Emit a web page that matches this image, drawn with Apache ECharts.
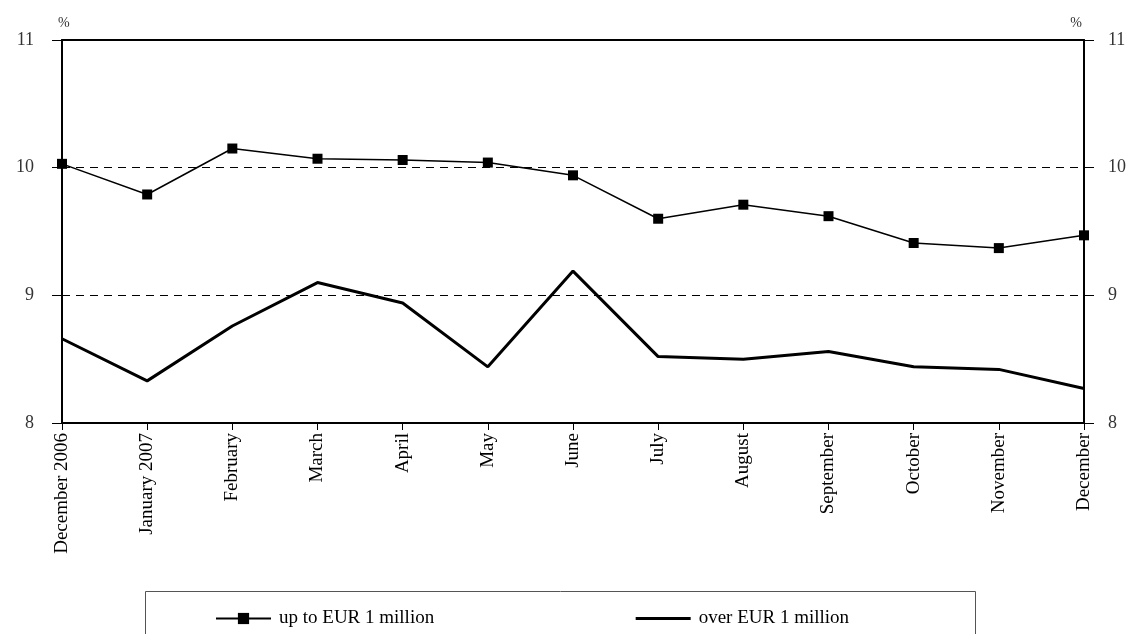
<!DOCTYPE html>
<html>
<head>
<meta charset="utf-8">
<script src="https://cdn.jsdelivr.net/npm/echarts@6/dist/echarts.min.js"></script>
<style>
html,body{margin:0;padding:0;background:#fff;}
#chart{width:1134px;height:634px;}
</style>
</head>
<body>
<div id="chart"></div>
<script>
const categories = ['December 2006','January 2007','February','March','April','May','June','July','August','September','October','November','December'];
const upTo1m = [10.03, 9.79, 10.15, 10.07, 10.06, 10.04, 9.94, 9.60, 9.71, 9.62, 9.41, 9.37, 9.47];
const over1m = [8.66, 8.33, 8.76, 9.10, 8.94, 8.44, 9.19, 8.52, 8.50, 8.56, 8.44, 8.42, 8.27];
const seriesNames = ['up to EUR 1 million', 'over EUR 1 million'];
const yMin = 8, yMax = 11, yInterval = 1;

const font = '"Liberation Serif", "DejaVu Serif", serif';
const chart = echarts.init(document.getElementById('chart'));
const yAxisCommon = {
  type: 'value', min: yMin, max: yMax, interval: yInterval,
  axisLine: {show: true, lineStyle: {color: '#000', width: 2}},
  axisTick: {show: true, length: 10, lineStyle: {color: '#000', width: 1}},
  axisLabel: {color: '#333', fontFamily: font, fontSize: 18, margin: 26},
  name: '%',
  nameGap: 10,
  nameTextStyle: {color: '#333', fontFamily: font, fontSize: 14}
};
chart.setOption({
  animation: false,
  backgroundColor: '#fff',
  grid: {left: 62, right: 50, top: 40, bottom: 211, containLabel: false},
  legend: {
    left: 210, top: 604,
    itemWidth: 55, itemHeight: 14, itemGap: 200,
    textStyle: {color: '#000', fontFamily: font, fontSize: 19, padding: [0,0,0,3]},
    data: [
      {name: seriesNames[0]},
      {name: seriesNames[1], itemStyle: {opacity: 0}, lineStyle: {width: 3, color: '#000'}}
    ]
  },
  graphic: [{
    type: 'rect', shape: {x: 145.5, y: 591.5, width: 830, height: 60},
    style: {fill: 'none', stroke: '#555', lineWidth: 1}, z: -1
  }],
  xAxis: [{
    type: 'category', data: categories, boundaryGap: false,
    axisLine: {show: true, lineStyle: {color: '#000', width: 2}},
    axisTick: {show: true, length: 7, alignWithLabel: true, lineStyle: {color: '#000'}},
    axisLabel: {rotate: 90, color: '#000', fontFamily: font, fontSize: 19, margin: 10, interval: 0},
    splitLine: {show: false}
  }, {
    type: 'category', data: categories, boundaryGap: false, position: 'top',
    axisLine: {show: true, lineStyle: {color: '#000', width: 2}},
    axisTick: {show: false}, axisLabel: {show: false}, splitLine: {show: false}
  }],
  yAxis: [
    Object.assign({}, yAxisCommon, {
      position: 'left',
      axisLabel: Object.assign({}, yAxisCommon.axisLabel, {margin: 28}),
      nameTextStyle: Object.assign({}, yAxisCommon.nameTextStyle, {align: 'left', padding: [0,0,0,-4]}),
      splitLine: {show: true, lineStyle: {color: '#000', type: [8, 6], width: 1}}
    }),
    Object.assign({}, yAxisCommon, {
      position: 'right',
      axisLabel: Object.assign({}, yAxisCommon.axisLabel, {margin: 24}),
      nameTextStyle: Object.assign({}, yAxisCommon.nameTextStyle, {align: 'right', padding: [0,2,0,0]}),
      splitLine: {show: false}
    })
  ],
  series: [
    {
      name: seriesNames[0], type: 'line', data: upTo1m,
      symbol: 'rect', symbolSize: 10,
      itemStyle: {color: '#000'},
      lineStyle: {color: '#000', width: 1.5},
      z: 3
    },
    {
      name: seriesNames[1], type: 'line', data: over1m,
      symbol: 'none', showSymbol: false,
      itemStyle: {color: '#000'},
      lineStyle: {color: '#000', width: 3},
      z: 3
    }
  ]
});
</script>
</body>
</html>
